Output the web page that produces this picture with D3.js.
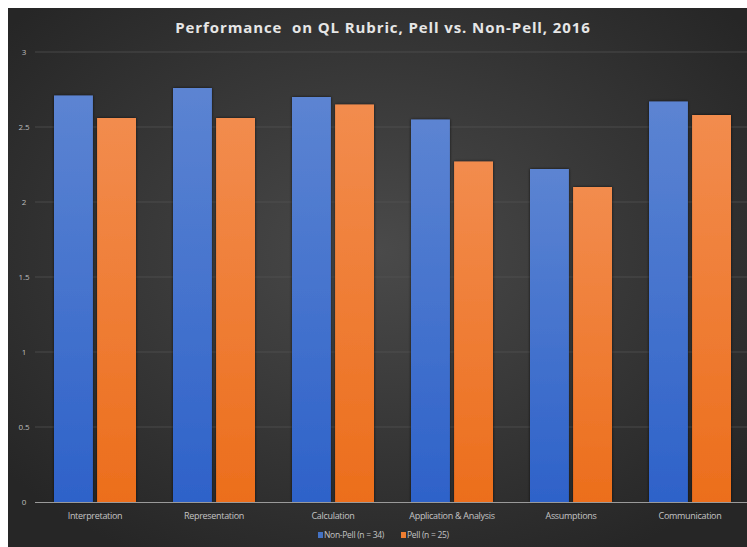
<!DOCTYPE html>
<html>
<head>
<meta charset="utf-8">
<script src="https://cdn.jsdelivr.net/npm/d3@7"></script>
<style>
  html, body { margin: 0; padding: 0; background: #fff; }
  svg { display: block; }
</style>
</head>
<body>
<svg id="chart" width="747" height="547"></svg>
<script>
const categories = ["Interpretation", "Representation", "Calculation", "Application & Analysis", "Assumptions", "Communication"];
const seriesNames = ["Non-Pell (n = 34)", "Pell (n = 25)"];
const nonPell = [2.71, 2.76, 2.70, 2.55, 2.22, 2.67];
const pell = [2.56, 2.56, 2.65, 2.27, 2.10, 2.58];
const yTicks = [0, 0.5, 1, 1.5, 2, 2.5, 3];

const W = 747, H = 547;
const svg = d3.select("#chart");
const defs = svg.append("defs");

// chart area background: soft radial glow on charcoal
const bg = defs.append("radialGradient").attr("id", "bg")
  .attr("cx", "50%").attr("cy", "45%").attr("r", "65%");
bg.append("stop").attr("offset", "0%").attr("stop-color", "#4a4a4a");
bg.append("stop").attr("offset", "100%").attr("stop-color", "#262626");

const gradBlue = defs.append("linearGradient").attr("id", "gBlue").attr("x1", 0).attr("y1", 0).attr("x2", 0).attr("y2", 1);
gradBlue.append("stop").attr("offset", "0%").attr("stop-color", "#5c84d2");
gradBlue.append("stop").attr("offset", "100%").attr("stop-color", "#2e62c9");
const gradOrange = defs.append("linearGradient").attr("id", "gOrange").attr("x1", 0).attr("y1", 0).attr("x2", 0).attr("y2", 1);
gradOrange.append("stop").attr("offset", "0%").attr("stop-color", "#f28c4e");
gradOrange.append("stop").attr("offset", "100%").attr("stop-color", "#ec6e1c");

const shadow = defs.append("filter").attr("id", "shadow").attr("x", "-20%").attr("y", "-5%").attr("width", "140%").attr("height", "110%");
shadow.append("feDropShadow").attr("dx", 0).attr("dy", 0).attr("stdDeviation", 1.6)
  .attr("flood-color", "#000").attr("flood-opacity", 0.7);

svg.append("rect").attr("x", 8).attr("y", 8).attr("width", W - 8).attr("height", H - 8).attr("fill", "url(#bg)");

const x0 = d3.scaleBand().domain(categories).range([35.5, 749.5]).paddingInner(0).paddingOuter(0);
const x1 = d3.scaleBand().domain(seriesNames).range([18.5, x0.bandwidth() - 18.5]).paddingInner(8 / 82);
const y = d3.scaleLinear().domain([0, 3]).range([502, 52]);

// gridlines
svg.append("g").selectAll("line").data(yTicks.filter(d => d > 0)).join("line")
  .attr("x1", 35).attr("x2", W).attr("y1", d => y(d)).attr("y2", d => y(d))
  .attr("stroke", "#555").attr("stroke-width", 1).attr("opacity", 0.7);

// y axis labels
const yAxis = d3.axisLeft(y).tickValues(yTicks).tickSize(0).tickPadding(0).tickFormat(d3.format("~g"));
const yg = svg.append("g").attr("transform", "translate(26,0)").call(yAxis);
yg.select(".domain").remove();
yg.selectAll("text").attr("fill", "#bdbdbd").attr("font-size", 8).attr("font-family", "Open Sans, sans-serif")
  .attr("text-anchor", "middle").attr("dx", -2);

// bars
const series = [nonPell, pell];
const fills = ["url(#gBlue)", "url(#gOrange)"];
const groups = svg.append("g").selectAll("g").data(categories).join("g")
  .attr("transform", d => `translate(${x0(d)},0)`);
groups.selectAll("rect").data((d, i) => series.map((s, k) => ({ k, v: s[i] }))).join("rect")
  .attr("x", d => x1(seriesNames[d.k]))
  .attr("width", x1.bandwidth())
  .attr("y", d => y(d.v))
  .attr("height", d => y(0) - y(d.v))
  .attr("fill", d => fills[d.k])
  .attr("filter", "url(#shadow)");

// baseline
svg.append("line").attr("x1", 35).attr("x2", W).attr("y1", y(0) + 0.5).attr("y2", y(0) + 0.5)
  .attr("stroke", "#9a9a9a").attr("stroke-width", 1.2);

// category labels
const xAxis = d3.axisBottom(x0).tickSize(0).tickPadding(0);
const xg = svg.append("g").attr("transform", `translate(0,${y(0) + 17})`).call(xAxis);
xg.select(".domain").remove();
xg.selectAll("text").attr("fill", "#c4c4c4").attr("font-size", 9).attr("font-family", "Open Sans, sans-serif")
  .attr("letter-spacing", -0.3).attr("dy", 0);

// title
svg.append("text").attr("x", 383).attr("y", 33).attr("text-anchor", "middle")
  .attr("fill", "#e6e6e6").attr("font-size", 15).attr("font-weight", "bold")
  .attr("font-family", "Open Sans, sans-serif").attr("letter-spacing", 0.9)
  .text("Performance  on QL Rubric, Pell vs. Non-Pell, 2016").style("white-space", "pre");

// legend
const legendColors = ["#4472c4", "#ed7d31"];
const legendX = [318, 401];
const lg = svg.append("g").selectAll("g").data(seriesNames).join("g")
  .attr("transform", (d, i) => `translate(${legendX[i]},537)`);
lg.append("rect").attr("x", 0).attr("y", -5).attr("width", 5).attr("height", 6).attr("fill", (d, i) => legendColors[i]);
lg.append("text").attr("x", 6).attr("y", 1).attr("fill", "#c4c4c4").attr("font-size", 8.5)
  .attr("font-family", "Open Sans, sans-serif").attr("letter-spacing", -0.3).text(d => d);
</script>
</body>
</html>
